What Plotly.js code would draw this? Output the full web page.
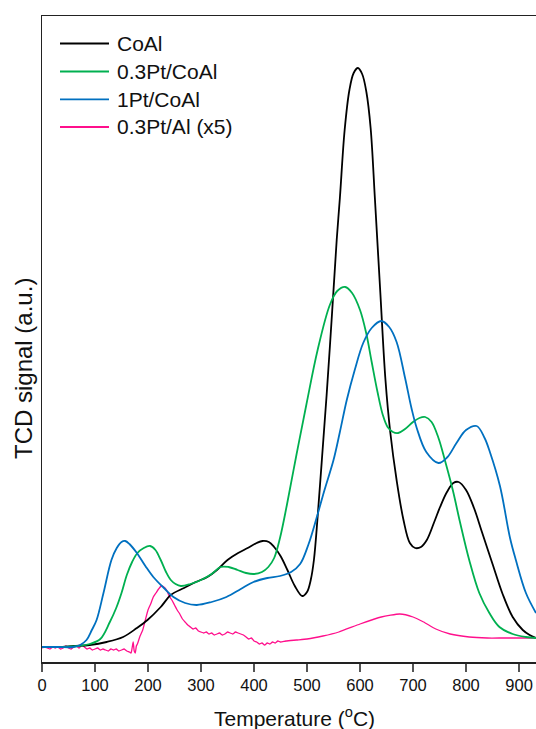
<!DOCTYPE html>
<html>
<head>
<meta charset="utf-8">
<script src="https://cdn.plot.ly/plotly-3.0.1.min.js"></script>
<style>
html,body{margin:0;padding:0;background:#ffffff;}
#chart{width:536px;height:729px;}
</style>
</head>
<body>
<div id="chart"></div>
<script>
// ---- data (signal in arbitrary units) ----
const seriesNames = ["CoAl", "0.3Pt/CoAl", "1Pt/CoAl", "0.3Pt/Al (x5)"];

const tempCoAl = [0,30,60,90,122,153,179,199,224,243,268,290,312,330,350,370,388,405,416,428,438,450,463,477,491,500,507,513,520,528,537,547,556,562,571,580,588,596,604,612,620,628,638,648,657,669,682,694,704,715,726,740,751,764,776,786,800,815,830,850,869,888,907,920,932];
const sigCoAl  = [13,13,14,15,18,23,32,40,53,65,72,78,83,90,100,107,112,117,119,118,113,104,90,74,64,68,80,100,143,200,265,345,420,462,530,570,587,592,586,568,532,462,370,280,228,180,140,117,112,113,120,138,153,168,177,178,170,152,128,96,66,43,30,25,22];

const temp03Pt = [0,40,70,90,110,128,140,150,160,170,180,192,204,214,224,234,243,252,262,280,300,320,337,352,369,385,400,415,427,438,449,462,480,499,520,543,557,572,585,600,612,622,633,643,652,662,672,685,700,712,723,735,748,760,775,789,806,825,844,863,888,913,932];
const sig03Pt  = [13,13,14,16,21,38,52,67,85,98,107,112,114,110,100,88,80,76,74,76,80,86,93,93,90,87,86,88,93,102,122,155,205,256,310,355,369,373,367,350,326,298,268,245,233,228,227,231,238,242,243,238,222,200,170,137,100,67,47,33,26,23,22];

const temp1Pt = [0,30,59,72,84,94,103,116,131,141,150,157,165,179,195,210,230,248,270,292,320,348,375,399,425,449,470,487,503,518,533,550,562,575,590,606,622,640,655,669,685,697,707,725,748,765,782,800,820,835,845,864,883,894,913,932];
const sig1Pt  = [13,13,13,15,20,30,40,67,100,112,118,119,116,107,94,83,72,63,57,55,58,63,71,78,82,84,88,96,116,142,170,200,228,260,290,317,332,339,333,318,282,252,232,208,197,203,217,230,234,222,208,174,122,100,67,47];

const tempPtAl = [0,5,10,15,20,25,30,35,40,45,50,55,60,65,70,75,80,85,90,95,100,105,110,115,120,125,130,135,140,145,150,155,160,165,168,170,172,174,176,178,180,185,190,195,200,205,210,215,220,225,230,235,240,245,250,255,260,265,270,275,280,285,290,295,300,305,310,315,320,325,330,335,340,345,350,355,360,365,370,375,380,385,390,395,400,405,410,415,420,425,430,435,440,445,450,460,480,500,530,560,600,640,675,700,720,743,770,806,840,869,900,932];
const sigPtAl  = [12,13,12,11,13,12,13,11,12,14,12,11,13,14,12,15,13,11,12,10,11,12,10,11,10,9,11,10,11,9,10,11,9,8,7,12,18,9,7,14,16,24,30,40,50,56,63,67,71,74,73,70,64,60,55,50,46,41,38,35,33,31,32,29,28,27,28,26,27,25,26,27,25,26,28,27,26,28,27,26,25,23,21,22,19,18,16,17,15,17,16,18,17,19,18,19,20,21,24,28,36,43,46,43,38,31,26,23,22,22,22,22];

const xTickVals = [0,100,200,300,400,500,600,700,800,900];

// ---- styling ----
const colors = ["#000000", "#00b050", "#0070c0", "#ff0f8c"];
const widths = [1.8, 1.8, 1.8, 1.3];
const xs = [tempCoAl, temp03Pt, temp1Pt, tempPtAl];
const ys = [sigCoAl, sig03Pt, sig1Pt, sigPtAl];

const traces = seriesNames.map((name, i) => ({
  x: xs[i], y: ys[i], name: name, type: "scatter", mode: "lines",
  line: {color: colors[i], width: widths[i], shape: "spline", smoothing: i === 3 ? 0.5 : 1},
  showlegend: false, hoverinfo: "skip"
}));
// draw pink first so it sits underneath
traces.unshift(traces.pop());

// pixel geometry of the plot area
const W = 536, H = 729;
const mL = 42, mR = 0, mT = 16, mB = 67;
const pw = W - mL - mR, ph = H - mT - mB;
const px2paperX = p => (p - mL) / pw;
const px2paperY = p => (H - mB - p) / ph;

// manual legend (long line samples like the original)
const legendRowsPx = [43.5, 71.5, 99.3, 127];
const shapes = [];
const annotations = [];
seriesNames.forEach((name, i) => {
  shapes.push({type: "line", xref: "paper", yref: "paper",
    x0: px2paperX(60), x1: px2paperX(109), y0: px2paperY(legendRowsPx[i]), y1: px2paperY(legendRowsPx[i]),
    line: {color: colors[i], width: 1.8}});
  annotations.push({xref: "paper", yref: "paper", x: px2paperX(115), y: px2paperY(legendRowsPx[i]),
    xanchor: "left", yanchor: "middle", showarrow: false, text: name,
    font: {family: "Liberation Sans, Arial, sans-serif", size: 21, color: "#111"}});
});
// axis titles
annotations.push({xref: "paper", yref: "paper", x: px2paperX(294), y: px2paperY(717),
  xanchor: "center", yanchor: "middle", showarrow: false,
  text: "Temperature (<sup>o</sup>C)",
  font: {family: "Liberation Sans, Arial, sans-serif", size: 21, color: "#111"}});
annotations.push({xref: "paper", yref: "paper", x: px2paperX(23), y: px2paperY(369),
  xanchor: "center", yanchor: "middle", showarrow: false, textangle: -90,
  text: "TCD signal (a.u.)",
  font: {family: "Liberation Sans, Arial, sans-serif", size: 24, color: "#111"}});

const layout = {
  width: W, height: H,
  margin: {l: mL, r: mR, t: mT, b: mB, pad: 0},
  paper_bgcolor: "#ffffff", plot_bgcolor: "#ffffff",
  showlegend: false,
  xaxis: {
    range: [0, 932], tickvals: xTickVals, ticktext: xTickVals.map(String),
    ticks: "outside", ticklen: 8, tickwidth: 1.3, tickcolor: "#555",
    showline: true, linecolor: "#222", linewidth: 1.5, mirror: true,
    showgrid: false, zeroline: false,
    tickfont: {family: "Liberation Sans, Arial, sans-serif", size: 16.5, color: "#111"}
  },
  yaxis: {
    range: [-2, 644], showticklabels: false, ticks: "",
    showline: true, linecolor: "#222", linewidth: 1.5,
    showgrid: false, zeroline: false
  },
  shapes: shapes,
  annotations: annotations
};

Plotly.newPlot("chart", traces, layout, {staticPlot: true, displayModeBar: false});
</script>
</body>
</html>
